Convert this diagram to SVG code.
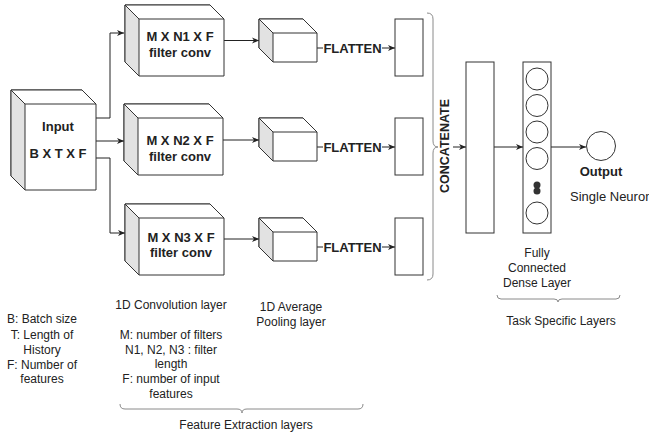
<svg xmlns="http://www.w3.org/2000/svg" width="649" height="435" viewBox="0 0 649 435">
  <style>
    .box { fill: #ffffff; stroke: #333333; stroke-width: 1; }
    .side { fill: #e2e2e2; stroke: #333333; stroke-width: 1; stroke-linejoin: round; }
    .edge { fill: none; stroke: #222222; stroke-width: 1; }
    .brace { fill: none; stroke: #8a8a8a; stroke-width: 1; }
    .b { font-family: "Liberation Sans", Arial, sans-serif; font-weight: bold; font-size: 13px; fill: #222222; text-anchor: middle; dominant-baseline: central; }
    .t { font-family: "Liberation Sans", Arial, sans-serif; font-size: 12px; fill: #222222; text-anchor: middle; dominant-baseline: central; }
  </style>
  <defs>
    <marker id="arrow" markerUnits="userSpaceOnUse" markerWidth="8" markerHeight="8" refX="7" refY="4" orient="auto">
      <path d="M0,1 L7,4 L0,7 L2,4 Z" fill="#222222"/>
    </marker>
  </defs>
  <rect width="649" height="435" fill="#ffffff"/>

  <!-- connectors -->
  <g id="connectors">
    <polyline class="edge" points="96,118 110,118 110,33 124,33" marker-end="url(#arrow)"/>
    <polyline class="edge" points="96,141 124,141" marker-end="url(#arrow)"/>
    <polyline class="edge" points="96,158 110,158 110,233 125,233" marker-end="url(#arrow)"/>
    <line class="edge" x1="224" y1="40.5" x2="259" y2="40.5" marker-end="url(#arrow)"/>
    <line class="edge" x1="223" y1="140" x2="259" y2="140" marker-end="url(#arrow)"/>
    <line class="edge" x1="224" y1="239" x2="259" y2="239" marker-end="url(#arrow)"/>
    <!-- flatten edges -->
    <line class="edge" x1="317" y1="48" x2="323" y2="48"/>
    <line class="edge" x1="382" y1="48" x2="395" y2="48" marker-end="url(#arrow)"/>
    <text class="b" x="352.5" y="48">FLATTEN</text>
    <line class="edge" x1="317" y1="147" x2="323" y2="147"/>
    <line class="edge" x1="382" y1="147" x2="395" y2="147" marker-end="url(#arrow)"/>
    <text class="b" x="352.5" y="147">FLATTEN</text>
    <line class="edge" x1="317" y1="247" x2="323" y2="247"/>
    <line class="edge" x1="382" y1="247" x2="395" y2="247" marker-end="url(#arrow)"/>
    <text class="b" x="352.5" y="247">FLATTEN</text>
    <!-- concatenate edge -->
    <line class="edge" x1="453" y1="147" x2="466" y2="147" marker-end="url(#arrow)"/>
    <text class="b" x="445" y="146" style="font-size:12.5px" transform="rotate(-90 445 146)">CONCATENATE</text>
    <line class="edge" x1="494" y1="147" x2="523" y2="147" marker-end="url(#arrow)"/>
    <line class="edge" x1="551" y1="147" x2="586" y2="147" marker-end="url(#arrow)"/>
  </g>

  <!-- input cube -->
  <g id="input">
    <path class="box" d="M11,90 L82,90 L96,104 L96,190 L25,190 L11,176 Z"/>
    <path class="side" d="M11,90 L25,104 L25,190 L11,176 Z"/>
    <path class="box" d="M11,90 L82,90 L96,104 L25,104 Z"/>
    <text class="b" x="58" y="126">Input</text>
    <text class="b" x="58" y="153">B X T X F</text>
  </g>

  <!-- convolution cubes -->
  <g id="conv1">
    <path class="box" d="M125,5 L210,5 L224,19 L224,76 L139,76 L125,62 Z"/>
    <path class="side" d="M125,5 L139,19 L139,76 L125,62 Z"/>
    <path class="box" d="M125,5 L210,5 L224,19 L139,19 Z"/>
    <text class="b" x="180" y="36">M X N1 X F</text>
    <text class="b" x="180" y="52">filter conv</text>
  </g>
  <g id="conv2">
    <path class="box" d="M124,104 L209,104 L223,118 L223,175 L138,175 L124,161 Z"/>
    <path class="side" d="M124,104 L138,118 L138,175 L124,161 Z"/>
    <path class="box" d="M124,104 L209,104 L223,118 L138,118 Z"/>
    <text class="b" x="180" y="140">M X N2 X F</text>
    <text class="b" x="180" y="156">filter conv</text>
  </g>
  <g id="conv3">
    <path class="box" d="M125,204 L210,204 L224,218 L224,275 L139,275 L125,261 Z"/>
    <path class="side" d="M125,204 L139,218 L139,275 L125,261 Z"/>
    <path class="box" d="M125,204 L210,204 L224,218 L139,218 Z"/>
    <text class="b" x="181" y="237">M X N3 X F</text>
    <text class="b" x="181" y="252">filter conv</text>
  </g>

  <!-- pooling cubes -->
  <g id="pool1">
    <path class="box" d="M259,19 L303,19 L317,33 L317,62 L273,62 L259,48 Z"/>
    <path class="side" d="M259,19 L273,33 L273,62 L259,48 Z"/>
    <path class="box" d="M259,19 L303,19 L317,33 L273,33 Z"/>
  </g>
  <g id="pool2">
    <path class="box" d="M259,118 L303,118 L317,132 L317,161 L273,161 L259,147 Z"/>
    <path class="side" d="M259,118 L273,132 L273,161 L259,147 Z"/>
    <path class="box" d="M259,118 L303,118 L317,132 L273,132 Z"/>
  </g>
  <g id="pool3">
    <path class="box" d="M259,218 L303,218 L317,232 L317,261 L273,261 L259,247 Z"/>
    <path class="side" d="M259,218 L273,232 L273,261 L259,247 Z"/>
    <path class="box" d="M259,218 L303,218 L317,232 L273,232 Z"/>
  </g>

  <!-- flattened vectors -->
  <g id="flat1"><rect class="box" x="395" y="19" width="28" height="57"/></g>
  <g id="flat2"><rect class="box" x="395" y="118" width="28" height="57"/></g>
  <g id="flat3"><rect class="box" x="395" y="218" width="28" height="57"/></g>

  <!-- concatenated vector -->
  <g id="concat"><rect class="box" x="466" y="62" width="28" height="171"/></g>

  <!-- dense layer -->
  <g id="dense">
    <rect class="box" x="523" y="62" width="28" height="171"/>
    <circle class="box" cx="537" cy="79" r="11"/>
    <circle class="box" cx="537" cy="105.5" r="11"/>
    <circle class="box" cx="537" cy="132" r="11"/>
    <circle class="box" cx="537" cy="158.5" r="11"/>
    <circle cx="537" cy="185" r="3.5" fill="#333333"/>
    <circle cx="537" cy="191" r="3.5" fill="#333333"/>
    <circle class="box" cx="537" cy="213" r="11"/>
    <text class="t" x="537" y="253">Fully</text>
    <text class="t" x="537" y="268">Connected</text>
    <text class="t" x="537" y="283">Dense Layer</text>
  </g>

  <!-- output neuron -->
  <g id="output">
    <circle class="box" cx="601" cy="146" r="14.5"/>
    <text class="b" x="601" y="171">Output</text>
    <text class="t" x="570" y="196" style="font-size:13px;text-anchor:start">Single Neuron</text>
  </g>

  <!-- braces -->
  <g id="braces">
    <path class="brace" d="M427,13 Q433,13 433,19 L433,141 Q433,147 438,147 Q433,147 433,153 L433,274 Q433,280 427,280"/>
    <path class="brace" d="M120,404 Q120,409 125,409 L237,409 Q242,409 242,413 Q242,409 247,409 L358,409 Q363,409 363,404"/>
    <path class="brace" d="M497,295 Q497,299 501,299 L554,299 Q558,299 558,302 Q558,299 562,299 L616,299 Q620,299 620,295"/>
  </g>

  <!-- legends -->
  <g id="legend-input">
    <text class="t" x="42" y="319">B: Batch size</text>
    <text class="t" x="42" y="335">T: Length of</text>
    <text class="t" x="42" y="350">History</text>
    <text class="t" x="42" y="365">F: Number of</text>
    <text class="t" x="42" y="379">features</text>
  </g>
  <g id="legend-conv">
    <text class="t" x="171" y="305">1D Convolution layer</text>
    <text class="t" x="171" y="335">M: number of filters</text>
    <text class="t" x="171" y="350">N1, N2, N3 : filter</text>
    <text class="t" x="171" y="364">length</text>
    <text class="t" x="171" y="379">F: number of input</text>
    <text class="t" x="171" y="394">features</text>
  </g>
  <g id="legend-pool">
    <text class="t" x="291" y="307">1D Average</text>
    <text class="t" x="291" y="322">Pooling layer</text>
  </g>
  <g id="label-feature">
    <text class="t" x="246" y="425">Feature Extraction layers</text>
  </g>
  <g id="label-task">
    <text class="t" x="561" y="321">Task Specific Layers</text>
  </g>
</svg>
